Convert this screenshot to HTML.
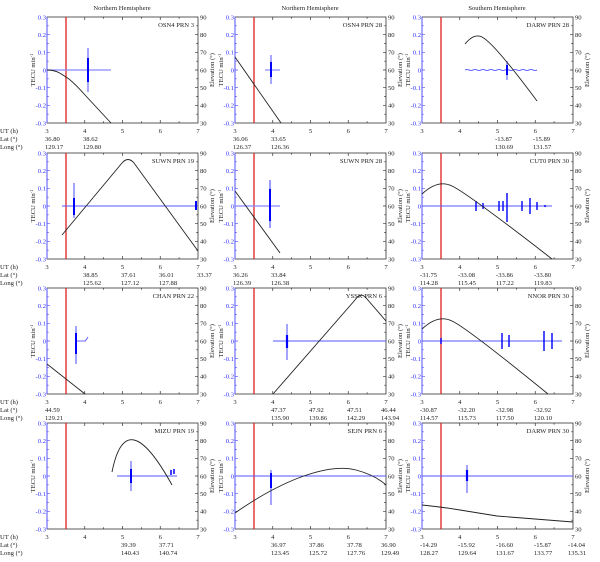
<!DOCTYPE html>
<html><head><meta charset="utf-8"><style>
html,body{margin:0;padding:0;background:#fff;}
svg{display:block;font-family:"Liberation Serif",serif;font-size:6.6px;}
.b{fill:#3030ff}.k{fill:#222}
</style></head><body>
<svg width="600" height="562" viewBox="0 0 600 562" xmlns="http://www.w3.org/2000/svg">
<defs>
<g id="f">
<rect x="0" y="0" width="151" height="106" fill="none" stroke="#333" stroke-width="0.8"/>
<line x1="0" y1="0" x2="0" y2="106" stroke="#5050ff" stroke-width="1"/>
<path d="M0,17.7h3M0,35.3h3M0,53h3M0,70.7h3M0,88.3h3M0,8.8h1.8M0,26.5h1.8M0,44.2h1.8M0,61.8h1.8M0,79.5h1.8M0,97.2h1.8" stroke="#5050ff" stroke-width="0.7"/>
<path d="M151,17.7h-3M151,35.3h-3M151,53h-3M151,70.7h-3M151,88.3h-3M151,8.8h-1.8M151,26.5h-1.8M151,44.2h-1.8M151,61.8h-1.8M151,79.5h-1.8M151,97.2h-1.8M37.75,106v-3M75.5,106v-3M113.25,106v-3M37.75,0v3M75.5,0v3M113.25,0v3M18.9,106v-1.8M56.6,106v-1.8M94.4,106v-1.8M132.1,106v-1.8M18.9,0v1.8M56.6,0v1.8M94.4,0v1.8M132.1,0v1.8" stroke="#333" stroke-width="0.7"/>
<line x1="19" y1="0" x2="19" y2="106" stroke="#e02020" stroke-width="1.3"/>
</g>
</defs>

<text x="122" y="10" text-anchor="middle" class="k">Northern Hemisphere</text>
<text x="310" y="10" text-anchor="middle" class="k">Northern Hemisphere</text>
<text x="497" y="10" text-anchor="middle" class="k">Southern Hemisphere</text>

<!-- Panel 1 -->
<g transform="translate(47,17)">
<use href="#f"/>
<g class="b" text-anchor="end"><text x="-1" y="2.5">0.3</text><text x="-1" y="20">0.2</text><text x="-1" y="37.5">0.1</text><text x="-1" y="55.5">0</text><text x="-1" y="73">-0.1</text><text x="-1" y="90.5">-0.2</text><text x="-1" y="108.5">-0.3</text></g>
<g class="k"><text x="153" y="2.5">90</text><text x="153" y="20">80</text><text x="153" y="37.5">70</text><text x="153" y="55.5">60</text><text x="153" y="73">50</text><text x="153" y="90.5">40</text><text x="153" y="108.5">30</text></g>
<text transform="translate(-12,53) rotate(-90)" text-anchor="middle" class="k">TECU min<tspan dy="-2" font-size="4.5">-1</tspan></text>
<text transform="translate(167,53) rotate(-90)" text-anchor="middle" class="k">Elevation (°)</text>
<g class="k" text-anchor="middle"><text x="0" y="116">3</text><text x="37.75" y="116">4</text><text x="75.5" y="116">5</text><text x="113.25" y="116">6</text><text x="151" y="116">7</text></g>
<text x="147" y="10" text-anchor="end" class="k">OSN4 PRN 3</text>
<g class="k"><text x="-47" y="116">UT (h)</text><text x="-47" y="124">Lat (°)</text><text x="-47" y="132">Long (°)</text>
<text x="-2" y="124">36.80</text><text x="-2" y="132">129.17</text><text x="36" y="124">38.62</text><text x="36" y="132">129.80</text></g>
<path d="M0,53H64" stroke="#8888ff" stroke-width="1.2"/>
<path d="M41,31V75" stroke="#8888ff" stroke-width="1.5"/><path d="M41,41V65" stroke="#0000ff" stroke-width="2"/>
<path d="M0,53 C10,53 14,57 19,60 S30,69 38,78 L64,106" fill="none" stroke="#222" stroke-width="0.9"/>
</g>

<!-- Panel 2 -->
<g transform="translate(235,17)">
<use href="#f"/>
<g class="b" text-anchor="end"><text x="-1" y="2.5">0.3</text><text x="-1" y="20">0.2</text><text x="-1" y="37.5">0.1</text><text x="-1" y="55.5">0</text><text x="-1" y="73">-0.1</text><text x="-1" y="90.5">-0.2</text><text x="-1" y="108.5">-0.3</text></g>
<g class="k"><text x="153" y="2.5">90</text><text x="153" y="20">80</text><text x="153" y="37.5">70</text><text x="153" y="55.5">60</text><text x="153" y="73">50</text><text x="153" y="90.5">40</text><text x="153" y="108.5">30</text></g>
<text transform="translate(-12,53) rotate(-90)" text-anchor="middle" class="k">TECU min<tspan dy="-2" font-size="4.5">-1</tspan></text>
<text transform="translate(167,53) rotate(-90)" text-anchor="middle" class="k">Elevation (°)</text>
<g class="k" text-anchor="middle"><text x="0" y="116">3</text><text x="37.75" y="116">4</text><text x="75.5" y="116">5</text><text x="113.25" y="116">6</text><text x="151" y="116">7</text></g>
<text x="147" y="10" text-anchor="end" class="k">OSN4 PRN 28</text>
<g class="k"><text x="-2" y="124">36.06</text><text x="-2" y="132">126.37</text><text x="36" y="124">33.65</text><text x="36" y="132">126.36</text></g>
<path d="M30,53H45" stroke="#8888ff" stroke-width="1.2"/>
<path d="M36,38V67" stroke="#8888ff" stroke-width="1.5"/><path d="M36,45V60" stroke="#0000ff" stroke-width="2"/>
<path d="M0,40 L46,106" fill="none" stroke="#222" stroke-width="0.9"/>
</g>

<!-- Panel 3 -->
<g transform="translate(422,17)">
<use href="#f"/>
<g class="b" text-anchor="end"><text x="-1" y="2.5">0.3</text><text x="-1" y="20">0.2</text><text x="-1" y="37.5">0.1</text><text x="-1" y="55.5">0</text><text x="-1" y="73">-0.1</text><text x="-1" y="90.5">-0.2</text><text x="-1" y="108.5">-0.3</text></g>
<g class="k"><text x="153" y="2.5">90</text><text x="153" y="20">80</text><text x="153" y="37.5">70</text><text x="153" y="55.5">60</text><text x="153" y="73">50</text><text x="153" y="90.5">40</text><text x="153" y="108.5">30</text></g>
<text transform="translate(-12,53) rotate(-90)" text-anchor="middle" class="k">TECU min<tspan dy="-2" font-size="4.5">-1</tspan></text>
<text transform="translate(167,53) rotate(-90)" text-anchor="middle" class="k">Elevation (°)</text>
<g class="k" text-anchor="middle"><text x="0" y="116">3</text><text x="37.75" y="116">4</text><text x="75.5" y="116">5</text><text x="113.25" y="116">6</text><text x="151" y="116">7</text></g>
<text x="147" y="10" text-anchor="end" class="k">DARW PRN 28</text>
<g class="k"><text x="73" y="124">-13.87</text><text x="73" y="132">130.69</text><text x="111" y="124">-15.89</text><text x="111" y="132">131.57</text></g>
<path d="M43,53 q2,-1 4,0 t4,0 t4,0 t4,0 t4,0 t4,0 t4,0 t4,0 t4,0 t4,0 t4,0 t4,0 t4,0 t4,0 t4,0 t4,0 t4,0 t4,0" fill="none" stroke="#6666ff" stroke-width="1"/>
<path d="M85,44V63" stroke="#8888ff" stroke-width="1.5"/><path d="M85,48V58" stroke="#0000ff" stroke-width="2"/>
<path d="M43,27 Q52,16 60,20 Q72,26 115,84" fill="none" stroke="#222" stroke-width="0.9"/>
</g>

<!-- Panel 4 -->
<g transform="translate(47,153)">
<use href="#f"/>
<g class="b" text-anchor="end"><text x="-1" y="2.5">0.3</text><text x="-1" y="20">0.2</text><text x="-1" y="37.5">0.1</text><text x="-1" y="55.5">0</text><text x="-1" y="73">-0.1</text><text x="-1" y="90.5">-0.2</text><text x="-1" y="108.5">-0.3</text></g>
<g class="k"><text x="153" y="2.5">90</text><text x="153" y="20">80</text><text x="153" y="37.5">70</text><text x="153" y="55.5">60</text><text x="153" y="73">50</text><text x="153" y="90.5">40</text><text x="153" y="108.5">30</text></g>
<text transform="translate(-12,53) rotate(-90)" text-anchor="middle" class="k">TECU min<tspan dy="-2" font-size="4.5">-1</tspan></text>
<text transform="translate(167,53) rotate(-90)" text-anchor="middle" class="k">Elevation (°)</text>
<g class="k" text-anchor="middle"><text x="0" y="116">3</text><text x="37.75" y="116">4</text><text x="75.5" y="116">5</text><text x="113.25" y="116">6</text><text x="151" y="116">7</text></g>
<text x="147" y="10" text-anchor="end" class="k">SUWN PRN 19</text>
<g class="k"><text x="-47" y="116">UT (h)</text><text x="-47" y="124">Lat (°)</text><text x="-47" y="132">Long (°)</text>
<text x="36" y="124">38.85</text><text x="36" y="132">125.62</text><text x="74" y="124">37.61</text><text x="74" y="132">127.12</text><text x="112" y="124">36.01</text><text x="112" y="132">127.88</text><text x="150" y="124">33.37</text></g>
<path d="M15,53H151" stroke="#5555ff" stroke-width="1"/>
<path d="M27,30V65" stroke="#6666ff" stroke-width="1.2"/><path d="M27,45V62" stroke="#0000ff" stroke-width="2"/><path d="M149,48V57" stroke="#0000ff" stroke-width="2"/>
<path d="M15,82 L75,10 Q81,3 87,10 L151,98" fill="none" stroke="#222" stroke-width="0.9"/>
</g>

<!-- Panel 5 -->
<g transform="translate(235,153)">
<use href="#f"/>
<g class="b" text-anchor="end"><text x="-1" y="2.5">0.3</text><text x="-1" y="20">0.2</text><text x="-1" y="37.5">0.1</text><text x="-1" y="55.5">0</text><text x="-1" y="73">-0.1</text><text x="-1" y="90.5">-0.2</text><text x="-1" y="108.5">-0.3</text></g>
<g class="k"><text x="153" y="2.5">90</text><text x="153" y="20">80</text><text x="153" y="37.5">70</text><text x="153" y="55.5">60</text><text x="153" y="73">50</text><text x="153" y="90.5">40</text><text x="153" y="108.5">30</text></g>
<text transform="translate(-12,53) rotate(-90)" text-anchor="middle" class="k">TECU min<tspan dy="-2" font-size="4.5">-1</tspan></text>
<text transform="translate(167,53) rotate(-90)" text-anchor="middle" class="k">Elevation (°)</text>
<g class="k" text-anchor="middle"><text x="0" y="116">3</text><text x="37.75" y="116">4</text><text x="75.5" y="116">5</text><text x="113.25" y="116">6</text><text x="151" y="116">7</text></g>
<text x="147" y="10" text-anchor="end" class="k">SUWN PRN 28</text>
<g class="k"><text x="-2" y="124">36.26</text><text x="-2" y="132">126.39</text><text x="36" y="124">33.84</text><text x="36" y="132">126.38</text></g>
<path d="M0,53H45" stroke="#8888ff" stroke-width="1.2"/>
<path d="M35,27V75" stroke="#6666ff" stroke-width="1.3"/><path d="M35,36V68" stroke="#0000ff" stroke-width="2"/>
<path d="M0,38 L45,100" fill="none" stroke="#222" stroke-width="0.9"/>
</g>

<!-- Panel 6 -->
<g transform="translate(422,153)">
<use href="#f"/>
<g class="b" text-anchor="end"><text x="-1" y="2.5">0.3</text><text x="-1" y="20">0.2</text><text x="-1" y="37.5">0.1</text><text x="-1" y="55.5">0</text><text x="-1" y="73">-0.1</text><text x="-1" y="90.5">-0.2</text><text x="-1" y="108.5">-0.3</text></g>
<g class="k"><text x="153" y="2.5">90</text><text x="153" y="20">80</text><text x="153" y="37.5">70</text><text x="153" y="55.5">60</text><text x="153" y="73">50</text><text x="153" y="90.5">40</text><text x="153" y="108.5">30</text></g>
<text transform="translate(-12,53) rotate(-90)" text-anchor="middle" class="k">TECU min<tspan dy="-2" font-size="4.5">-1</tspan></text>
<text transform="translate(167,53) rotate(-90)" text-anchor="middle" class="k">Elevation (°)</text>
<g class="k" text-anchor="middle"><text x="0" y="116">3</text><text x="37.75" y="116">4</text><text x="75.5" y="116">5</text><text x="113.25" y="116">6</text><text x="151" y="116">7</text></g>
<text x="147" y="10" text-anchor="end" class="k">CUT0 PRN 30</text>
<g class="k"><text x="-2" y="124">-31.75</text><text x="-2" y="132">114.28</text><text x="36" y="124">-33.08</text><text x="36" y="132">115.45</text><text x="74" y="124">-33.86</text><text x="74" y="132">117.22</text><text x="112" y="124">-33.80</text><text x="112" y="132">119.83</text></g>
<path d="M0,53H130" stroke="#5555ff" stroke-width="1"/>
<path d="M54,48V58M61,50V56M77,48V58M81,48V58M85,40V69M100,48V58M108,45V61M115,49V57M123,52V54" stroke="#0000ff" stroke-width="1.4"/>
<path d="M0,41 Q16,26 30,33 Q45,40 130,106" fill="none" stroke="#222" stroke-width="0.9"/>
</g>

<!-- Panel 7 -->
<g transform="translate(47,288)">
<use href="#f"/>
<g class="b" text-anchor="end"><text x="-1" y="2.5">0.3</text><text x="-1" y="20">0.2</text><text x="-1" y="37.5">0.1</text><text x="-1" y="55.5">0</text><text x="-1" y="73">-0.1</text><text x="-1" y="90.5">-0.2</text><text x="-1" y="108.5">-0.3</text></g>
<g class="k"><text x="153" y="2.5">90</text><text x="153" y="20">80</text><text x="153" y="37.5">70</text><text x="153" y="55.5">60</text><text x="153" y="73">50</text><text x="153" y="90.5">40</text><text x="153" y="108.5">30</text></g>
<text transform="translate(-12,53) rotate(-90)" text-anchor="middle" class="k">TECU min<tspan dy="-2" font-size="4.5">-1</tspan></text>
<text transform="translate(167,53) rotate(-90)" text-anchor="middle" class="k">Elevation (°)</text>
<g class="k" text-anchor="middle"><text x="0" y="116">3</text><text x="37.75" y="116">4</text><text x="75.5" y="116">5</text><text x="113.25" y="116">6</text><text x="151" y="116">7</text></g>
<text x="147" y="10" text-anchor="end" class="k">CHAN PRN 22</text>
<g class="k"><text x="-47" y="116">UT (h)</text><text x="-47" y="124">Lat (°)</text><text x="-47" y="132">Long (°)</text>
<text x="-2" y="124">44.59</text><text x="-2" y="132">129.21</text></g>
<path d="M28,53H38 q2,-2 3,-4" fill="none" stroke="#6666ff" stroke-width="1"/>
<path d="M29,38V76" stroke="#6666ff" stroke-width="1.2"/><path d="M29,45V66" stroke="#0000ff" stroke-width="2"/>
<path d="M0,76 L38,106" fill="none" stroke="#222" stroke-width="0.9"/>
</g>

<!-- Panel 8 -->
<g transform="translate(235,288)">
<use href="#f"/>
<g class="b" text-anchor="end"><text x="-1" y="2.5">0.3</text><text x="-1" y="20">0.2</text><text x="-1" y="37.5">0.1</text><text x="-1" y="55.5">0</text><text x="-1" y="73">-0.1</text><text x="-1" y="90.5">-0.2</text><text x="-1" y="108.5">-0.3</text></g>
<g class="k"><text x="153" y="2.5">90</text><text x="153" y="20">80</text><text x="153" y="37.5">70</text><text x="153" y="55.5">60</text><text x="153" y="73">50</text><text x="153" y="90.5">40</text><text x="153" y="108.5">30</text></g>
<text transform="translate(-12,53) rotate(-90)" text-anchor="middle" class="k">TECU min<tspan dy="-2" font-size="4.5">-1</tspan></text>
<text transform="translate(167,53) rotate(-90)" text-anchor="middle" class="k">Elevation (°)</text>
<g class="k" text-anchor="middle"><text x="0" y="116">3</text><text x="37.75" y="116">4</text><text x="75.5" y="116">5</text><text x="113.25" y="116">6</text><text x="151" y="116">7</text></g>
<text x="147" y="10" text-anchor="end" class="k">YSSK PRN 6</text>
<g class="k"><text x="36" y="124">47.37</text><text x="36" y="132">135.90</text><text x="74" y="124">47.92</text><text x="74" y="132">139.86</text><text x="112" y="124">47.51</text><text x="112" y="132">142.29</text><text x="146" y="124">46.44</text><text x="146" y="132">143.94</text></g>
<path d="M38,53H151" stroke="#5555ff" stroke-width="1"/>
<path d="M52,36V72" stroke="#6666ff" stroke-width="1.2"/><path d="M52,47V60" stroke="#0000ff" stroke-width="2.2"/>
<path d="M38,106 L120,12 Q126,3 132,11 L151,33" fill="none" stroke="#222" stroke-width="0.9"/>
</g>

<!-- Panel 9 -->
<g transform="translate(422,288)">
<use href="#f"/>
<g class="b" text-anchor="end"><text x="-1" y="2.5">0.3</text><text x="-1" y="20">0.2</text><text x="-1" y="37.5">0.1</text><text x="-1" y="55.5">0</text><text x="-1" y="73">-0.1</text><text x="-1" y="90.5">-0.2</text><text x="-1" y="108.5">-0.3</text></g>
<g class="k"><text x="153" y="2.5">90</text><text x="153" y="20">80</text><text x="153" y="37.5">70</text><text x="153" y="55.5">60</text><text x="153" y="73">50</text><text x="153" y="90.5">40</text><text x="153" y="108.5">30</text></g>
<text transform="translate(-12,53) rotate(-90)" text-anchor="middle" class="k">TECU min<tspan dy="-2" font-size="4.5">-1</tspan></text>
<text transform="translate(167,53) rotate(-90)" text-anchor="middle" class="k">Elevation (°)</text>
<g class="k" text-anchor="middle"><text x="0" y="116">3</text><text x="37.75" y="116">4</text><text x="75.5" y="116">5</text><text x="113.25" y="116">6</text><text x="151" y="116">7</text></g>
<text x="147" y="10" text-anchor="end" class="k">NNOR PRN 30</text>
<g class="k"><text x="-2" y="124">-30.87</text><text x="-2" y="132">114.57</text><text x="36" y="124">-32.20</text><text x="36" y="132">115.73</text><text x="74" y="124">-32.98</text><text x="74" y="132">117.50</text><text x="112" y="124">-32.92</text><text x="112" y="132">120.10</text></g>
<path d="M0,53H140" stroke="#5555ff" stroke-width="1"/>
<path d="M19,50V56M80,45V61M87,47V59M122,43V63M130,45V61" stroke="#0000ff" stroke-width="1.4"/>
<path d="M0,41 Q16,26 30,33 Q45,40 126,106" fill="none" stroke="#222" stroke-width="0.9"/>
</g>

<!-- Panel 10 -->
<g transform="translate(47,423)">
<use href="#f"/>
<g class="b" text-anchor="end"><text x="-1" y="2.5">0.3</text><text x="-1" y="20">0.2</text><text x="-1" y="37.5">0.1</text><text x="-1" y="55.5">0</text><text x="-1" y="73">-0.1</text><text x="-1" y="90.5">-0.2</text><text x="-1" y="108.5">-0.3</text></g>
<g class="k"><text x="153" y="2.5">90</text><text x="153" y="20">80</text><text x="153" y="37.5">70</text><text x="153" y="55.5">60</text><text x="153" y="73">50</text><text x="153" y="90.5">40</text><text x="153" y="108.5">30</text></g>
<text transform="translate(-12,53) rotate(-90)" text-anchor="middle" class="k">TECU min<tspan dy="-2" font-size="4.5">-1</tspan></text>
<text transform="translate(167,53) rotate(-90)" text-anchor="middle" class="k">Elevation (°)</text>
<g class="k" text-anchor="middle"><text x="0" y="116">3</text><text x="37.75" y="116">4</text><text x="75.5" y="116">5</text><text x="113.25" y="116">6</text><text x="151" y="116">7</text></g>
<text x="147" y="10" text-anchor="end" class="k">MIZU PRN 19</text>
<g class="k"><text x="-47" y="116">UT (h)</text><text x="-47" y="124">Lat (°)</text><text x="-47" y="132">Long (°)</text>
<text x="74" y="124">39.39</text><text x="74" y="132">140.43</text><text x="112" y="124">37.71</text><text x="112" y="132">140.74</text></g>
<path d="M70,53H130" stroke="#5555ff" stroke-width="1"/>
<path d="M84,38V68" stroke="#6666ff" stroke-width="1.2"/><path d="M84,46V60" stroke="#0000ff" stroke-width="2"/><path d="M124,47V52M127,46V51" stroke="#0000ff" stroke-width="1.5"/>
<path d="M65,49 Q79,-21.5 125,62" fill="none" stroke="#222" stroke-width="0.9"/>
</g>

<!-- Panel 11 -->
<g transform="translate(235,423)">
<use href="#f"/>
<g class="b" text-anchor="end"><text x="-1" y="2.5">0.3</text><text x="-1" y="20">0.2</text><text x="-1" y="37.5">0.1</text><text x="-1" y="55.5">0</text><text x="-1" y="73">-0.1</text><text x="-1" y="90.5">-0.2</text><text x="-1" y="108.5">-0.3</text></g>
<g class="k"><text x="153" y="2.5">90</text><text x="153" y="20">80</text><text x="153" y="37.5">70</text><text x="153" y="55.5">60</text><text x="153" y="73">50</text><text x="153" y="90.5">40</text><text x="153" y="108.5">30</text></g>
<text transform="translate(-12,53) rotate(-90)" text-anchor="middle" class="k">TECU min<tspan dy="-2" font-size="4.5">-1</tspan></text>
<text transform="translate(167,53) rotate(-90)" text-anchor="middle" class="k">Elevation (°)</text>
<g class="k" text-anchor="middle"><text x="0" y="116">3</text><text x="37.75" y="116">4</text><text x="75.5" y="116">5</text><text x="113.25" y="116">6</text><text x="151" y="116">7</text></g>
<text x="147" y="10" text-anchor="end" class="k">SEJN PRN 6</text>
<g class="k"><text x="36" y="124">36.97</text><text x="36" y="132">123.45</text><text x="74" y="124">37.86</text><text x="74" y="132">125.72</text><text x="112" y="124">37.78</text><text x="112" y="132">127.76</text><text x="146" y="124">36.90</text><text x="146" y="132">129.49</text></g>
<path d="M0,53H151" stroke="#5555ff" stroke-width="1"/>
<path d="M36,47V82" stroke="#6666ff" stroke-width="1.2"/><path d="M36,50V65" stroke="#0000ff" stroke-width="2"/>
<path d="M0,90 C50,55 95,40 121,47 Q140,52 151,62" fill="none" stroke="#222" stroke-width="0.9"/>
</g>

<!-- Panel 12 -->
<g transform="translate(422,423)">
<use href="#f"/>
<g class="b" text-anchor="end"><text x="-1" y="2.5">0.3</text><text x="-1" y="20">0.2</text><text x="-1" y="37.5">0.1</text><text x="-1" y="55.5">0</text><text x="-1" y="73">-0.1</text><text x="-1" y="90.5">-0.2</text><text x="-1" y="108.5">-0.3</text></g>
<g class="k"><text x="153" y="2.5">90</text><text x="153" y="20">80</text><text x="153" y="37.5">70</text><text x="153" y="55.5">60</text><text x="153" y="73">50</text><text x="153" y="90.5">40</text><text x="153" y="108.5">30</text></g>
<text transform="translate(-12,53) rotate(-90)" text-anchor="middle" class="k">TECU min<tspan dy="-2" font-size="4.5">-1</tspan></text>
<text transform="translate(167,53) rotate(-90)" text-anchor="middle" class="k">Elevation (°)</text>
<g class="k" text-anchor="middle"><text x="0" y="116">3</text><text x="37.75" y="116">4</text><text x="75.5" y="116">5</text><text x="113.25" y="116">6</text><text x="151" y="116">7</text></g>
<text x="147" y="10" text-anchor="end" class="k">DARW PRN 30</text>
<g class="k"><text x="-2" y="124">-14.29</text><text x="-2" y="132">128.27</text><text x="36" y="124">-15.92</text><text x="36" y="132">129.64</text><text x="74" y="124">-16.60</text><text x="74" y="132">131.67</text><text x="112" y="124">-15.87</text><text x="112" y="132">133.77</text><text x="146" y="124">-14.04</text><text x="146" y="132">135.31</text></g>
<path d="M0,53H151" stroke="#5555ff" stroke-width="1"/>
<path d="M45,42V70" stroke="#6666ff" stroke-width="1.2"/><path d="M45,47V58" stroke="#0000ff" stroke-width="2.2"/>
<path d="M0,82 Q20,84 38,87 T75,93 Q100,95 113,96 T151,99" fill="none" stroke="#222" stroke-width="0.9"/>
</g>
</svg>
</body></html>
